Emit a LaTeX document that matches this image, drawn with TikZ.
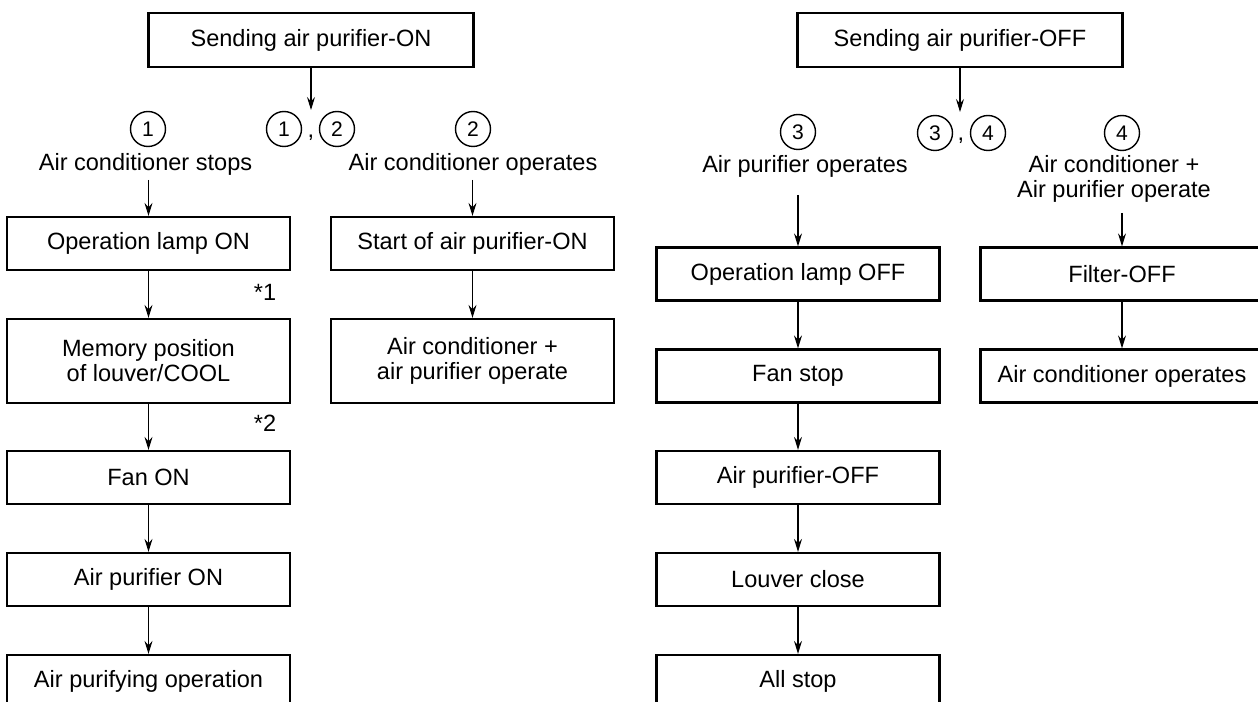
\documentclass[tikz,border=0pt]{standalone}
\usepackage{fontspec}
\setmainfont{Liberation Sans}
\usetikzlibrary{arrows.meta}

\tikzset{
  box/.style={draw, line width=1.3pt, minimum width=5.66cm, minimum height=1.06cm, inner sep=0pt, align=center},
  tallbox/.style={box, minimum height=1.68cm},
  topbox/.style={box, minimum width=6.5cm, minimum height=1.08cm},
  num/.style={draw, circle, line width=0.8pt, minimum size=0.7cm, inner sep=0pt, font=\fontsize{12pt}{12pt}\selectfont},
  lbl/.style={anchor=base, inner sep=0pt},
  arr/.style={-{Stealth[length=2.6mm,width=1.6mm,inset=0.9mm]}, line width=0.6pt}
}

\begin{document}
\begin{tikzpicture}[font=\fontsize{13.4pt}{14.2pt}\selectfont]
\useasboundingbox (0,0) rectangle (25.16,-14.04);
\clip (0,0) rectangle (25.16,-14.04);

% air purifier ON
\node[topbox] (on) at (6.22,-0.80) {Sending air purifier-ON};
\coordinate (onfork) at (6.22,-2.20);
\node[num] (p1) at (5.68,-2.58) {1};
\node[lbl] (pc1) at (6.22,-2.76) {,};
\node[num] (p2) at (6.74,-2.58) {2};
\node[num] (n1) at (2.96,-2.58) {1};
\node[lbl] (t1) at (2.91,-3.42) {Air conditioner stops};
\node[num] (n2) at (9.46,-2.58) {2};
\node[lbl] (t2) at (9.46,-3.42) {Air conditioner operates};
\coordinate (s1) at (2.97,-3.60);
\coordinate (s2) at (9.45,-3.60);
\node[box] (a1) at (2.97,-4.87) {Operation lamp ON};
\node[tallbox] (a2) at (2.97,-7.22) {Memory position\\of louver/COOL};
\node[box] (a3) at (2.97,-9.55) {Fan ON};
\node[box] (a4) at (2.97,-11.59) {Air purifier ON};
\node[box] (a5) at (2.97,-13.63) {Air purifying operation};
\node (r1) at (5.30,-5.84) {*1};
\node (r2) at (5.30,-8.46) {*2};
\node[box] (b1) at (9.45,-4.87) {Start of air purifier-ON};
\node[tallbox] (b2) at (9.45,-7.22) {Air conditioner +\\air purifier operate};

% air purifier OFF
\node[topbox] (off) at (19.20,-0.80) {Sending air purifier-OFF};
\coordinate (offfork) at (19.20,-2.24);
\node[num] (p3) at (18.70,-2.66) {3};
\node[lbl] (pc2) at (19.22,-2.82) {,};
\node[num] (p4) at (19.76,-2.66) {4};
\node[num] (n3) at (15.96,-2.64) {3};
\node[lbl] (t3) at (16.10,-3.46) {Air purifier operates};
\node[num] (n4) at (22.44,-2.66) {4};
\node[align=center, inner sep=0pt] (t4) at (22.28,-3.58) {Air conditioner +\\Air purifier operate};
\coordinate (s3) at (15.96,-3.90);
\coordinate (s4) at (22.44,-4.26);
\node[box] (c1) at (15.96,-5.48) {Operation lamp OFF};
\node[box] (c2) at (15.96,-7.52) {Fan stop};
\node[box] (c3) at (15.96,-9.55) {Air purifier-OFF};
\node[box] (c4) at (15.96,-11.59) {Louver close};
\node[box] (c5) at (15.96,-13.63) {All stop};
\node[box] (d1) at (22.44,-5.48) {Filter-OFF};
\node[box] (d2) at (22.44,-7.52) {Air conditioner operates};

\draw[arr] (on) -- (onfork);
\draw[arr] (off) -- (offfork);
\draw[arr] (s1) -- (a1);
\draw[arr] (s2) -- (b1);
\draw[arr] (s3) -- (c1);
\draw[arr] (s4) -- (d1);
\foreach \u/\v in {a1/a2,a2/a3,a3/a4,a4/a5,b1/b2,c1/c2,c2/c3,c3/c4,c4/c5,d1/d2}
  \draw[arr] (\u) -- (\v);
\end{tikzpicture}
\end{document}
